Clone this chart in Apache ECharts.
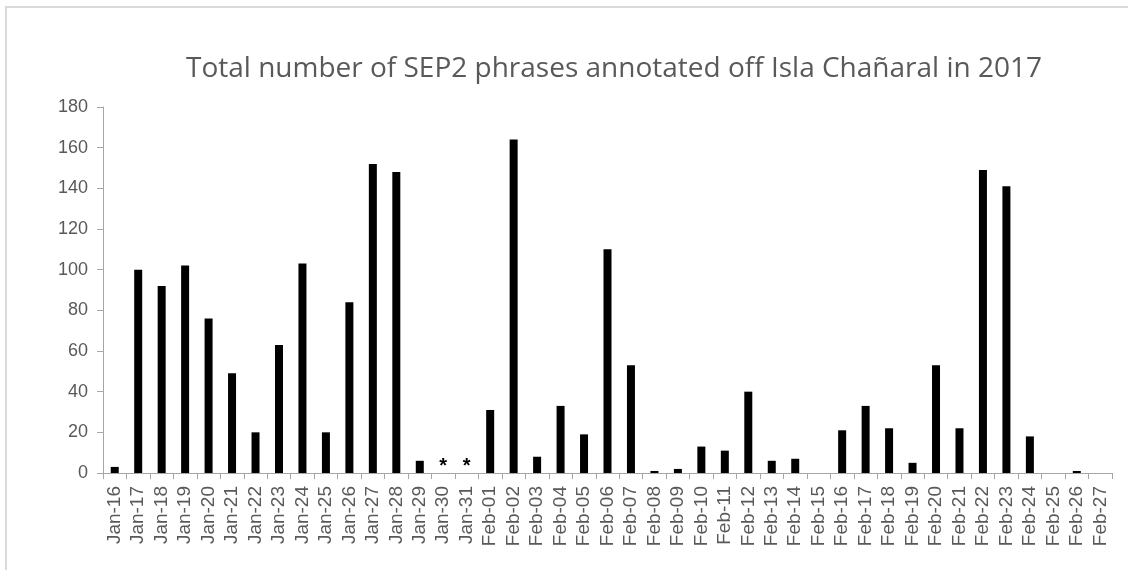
<!DOCTYPE html>
<html>
<head>
<meta charset="utf-8">
<script src="https://cdn.jsdelivr.net/npm/echarts@6/dist/echarts.min.js"></script>
<style>
  html, body { margin: 0; padding: 0; background: #fff; }
  #chart { width: 1128px; height: 570px; }
</style>
</head>
<body>
<div id="chart"></div>
<script>
// Daily SEP2 phrase counts, 16 Jan – 27 Feb 2017
const days = [
  'Jan-16','Jan-17','Jan-18','Jan-19','Jan-20','Jan-21','Jan-22','Jan-23','Jan-24','Jan-25',
  'Jan-26','Jan-27','Jan-28','Jan-29','Jan-30','Jan-31',
  'Feb-01','Feb-02','Feb-03','Feb-04','Feb-05','Feb-06','Feb-07','Feb-08','Feb-09','Feb-10',
  'Feb-11','Feb-12','Feb-13','Feb-14','Feb-15','Feb-16','Feb-17','Feb-18','Feb-19','Feb-20',
  'Feb-21','Feb-22','Feb-23','Feb-24','Feb-25','Feb-26','Feb-27'
];
const phrases = [
  3, 100, 92, 102, 76, 49, 20, 63, 103, 20,
  84, 152, 148, 6, 0, 0,
  31, 164, 8, 33, 19, 110, 53, 1, 2, 13,
  11, 40, 6, 7, 0, 21, 33, 22, 5, 53,
  22, 149, 141, 18, 0, 1, 0
];
// Days without recordings, flagged with an asterisk
const noRecording = ['Jan-30', 'Jan-31'];
const yTicks = { min: 0, max: 180, interval: 20 };

const chart = echarts.init(document.getElementById('chart'));
chart.setOption({
  animation: false,
  backgroundColor: '#fff',
  title: {
    text: 'Total number of SEP2 phrases annotated off Isla Chañaral in 2017',
    left: 181,
    top: 50,
    textStyle: {
      fontFamily: 'Open Sans',
      fontWeight: 'normal',
      fontSize: 28,
      color: '#595959'
    }
  },
  grid: { left: 103, right: 16, top: 107, bottom: 97, containLabel: false },
  xAxis: {
    type: 'category',
    data: days,
    axisLine: { lineStyle: { color: '#a6a6a6', width: 1 } },
    axisTick: { show: true, length: 6, alignWithLabel: false, lineStyle: { color: '#a6a6a6' } },
    axisLabel: {
      interval: 0,
      rotate: 90,
      margin: 13,
      fontFamily: 'Liberation Sans',
      fontSize: 19,
      color: '#595959'
    }
  },
  yAxis: {
    type: 'value',
    min: yTicks.min,
    max: yTicks.max,
    interval: yTicks.interval,
    axisLine: { show: true, lineStyle: { color: '#a6a6a6', width: 1 } },
    axisTick: { show: true, length: 6, lineStyle: { color: '#a6a6a6' } },
    splitLine: { show: false },
    axisLabel: {
      margin: 15,
      fontFamily: 'Liberation Sans',
      fontSize: 18,
      color: '#595959'
    }
  },
  series: [{
    type: 'bar',
    data: phrases,
    barWidth: 8,
    itemStyle: { color: '#000' },
    label: {
      show: true,
      position: 'top',
      distance: -3,
      fontFamily: 'Liberation Sans',
      fontWeight: 'bold',
      fontSize: 20,
      color: '#000',
      formatter: p => noRecording.includes(p.name) ? '*' : ''
    }
  }],
  graphic: [
    { type: 'line', shape: { x1: 6, y1: 7, x2: 1128, y2: 7 }, style: { stroke: '#d9d9d9', lineWidth: 2 } },
    { type: 'line', shape: { x1: 6, y1: 6, x2: 6, y2: 570 }, style: { stroke: '#d9d9d9', lineWidth: 2 } }
  ]
});
</script>
</body>
</html>
